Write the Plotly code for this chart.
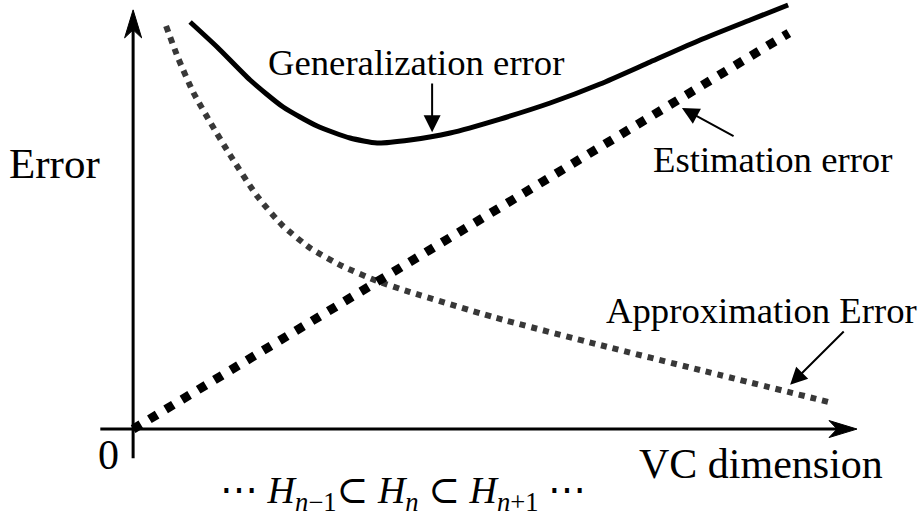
import plotly.graph_objects as go

# Conceptual curves: error versus VC dimension (arbitrary units)
approx_x = [5.03, 6.86, 9.15, 11.74, 14.79, 18.91, 22.72, 26.99, 31.87, 37.21, 42.24, 54.90, 71.22, 86.47, 106.74]
approx_y = [93.94, 86.48, 78.55, 71.56, 63.87, 54.31, 47.55, 42.19, 38.00, 34.50, 31.93, 26.11, 19.58, 13.75, 6.06]

estim_x = [0.0, 100.0]
estim_y = [0.0, 92.3]

gen_x = [8.69, 12.81, 17.84, 22.88, 28.06, 33.09, 37.21, 42.24, 48.35, 55.97, 63.60, 71.22, 78.85, 86.47, 94.10, 99.89]
gen_y = [94.87, 89.04, 81.35, 75.06, 70.63, 67.83, 66.67, 67.37, 69.00, 72.26, 75.99, 80.42, 85.55, 90.68, 95.34, 98.83]

SERIF = "Liberation Serif, Times New Roman, DejaVu Serif, serif"

fig = go.Figure()

fig.add_trace(go.Scatter(
    x=approx_x, y=approx_y, mode="lines",
    line=dict(color="#383838", width=6, dash="6px,6px", shape="spline", smoothing=0.6),
    hoverinfo="skip"))
fig.add_trace(go.Scatter(
    x=estim_x, y=estim_y, mode="lines",
    line=dict(color="black", width=9, dash="9px,10px"),
    hoverinfo="skip"))
fig.add_trace(go.Scatter(
    x=gen_x, y=gen_y, mode="lines",
    line=dict(color="black", width=5, shape="spline", smoothing=0.6),
    hoverinfo="skip"))

# Hand-drawn style axes with arrowheads
x_axis_start, x_axis_end = -5.0, 110.4
y_axis_start, y_axis_end = -6.8, 97.7
shapes = [
    dict(type="line", x0=x_axis_start, x1=x_axis_end - 3.0, y0=0, y1=0,
         line=dict(color="black", width=3)),
    dict(type="line", x0=0, x1=0, y0=y_axis_start, y1=y_axis_end - 4.5,
         line=dict(color="black", width=3)),
    dict(type="path", xsizemode="pixel", ysizemode="pixel",
         xanchor=x_axis_end, yanchor=0,
         path="M0,0 L-28,8.5 L-20,0 L-28,-8.5 Z",
         fillcolor="black", line=dict(color="black", width=1)),
    dict(type="path", xsizemode="pixel", ysizemode="pixel",
         xanchor=0, yanchor=y_axis_end,
         path="M0,0 L-8.5,-28 L0,-20 L8.5,-28 Z",
         fillcolor="black", line=dict(color="black", width=1)),
]

annotations = [
    # pointer arrows
    dict(x=45.6, y=69.2, ax=45.6, ay=80.9, axref="x", ayref="y", text="",
         showarrow=True, arrowhead=2, arrowwidth=2, arrowsize=1.7, arrowcolor="black"),
    dict(x=83.7, y=74.8, ax=91.8, ay=68.1, axref="x", ayref="y", text="",
         showarrow=True, arrowhead=2, arrowwidth=2, arrowsize=1.7, arrowcolor="black"),
    dict(x=100.2, y=10.3, ax=108.6, ay=23.1, axref="x", ayref="y", text="",
         showarrow=True, arrowhead=2, arrowwidth=2, arrowsize=1.7, arrowcolor="black"),
    # labels
    dict(x=20.2, y=85.4, text="Generalization error", showarrow=False,
         xanchor="left", yanchor="middle", font=dict(family=SERIF, size=36.7, color="black")),
    dict(x=79.0, y=62.8, text="Estimation error", showarrow=False,
         xanchor="left", yanchor="middle", font=dict(family=SERIF, size=36.7, color="black")),
    dict(x=71.8, y=27.6, text="Approximation Error", showarrow=False,
         xanchor="left", yanchor="middle", font=dict(family=SERIF, size=36.7, color="black")),
    dict(x=-19.2, y=62.0, text="Error", showarrow=False,
         xanchor="left", yanchor="middle", font=dict(family=SERIF, size=43, color="black")),
    dict(x=-5.6, y=-6.0, text="0", showarrow=False,
         xanchor="left", yanchor="middle", font=dict(family=SERIF, size=42, color="black")),
    dict(x=76.8, y=-8.2, text="VC dimension", showarrow=False,
         xanchor="left", yanchor="middle", font=dict(family=SERIF, size=42, color="black")),
    dict(x=13.0, y=-14.8,
         text="⋯ <i>H</i><sub><i>n</i>−1</sub>⊂ <i>H</i><sub><i>n</i></sub> ⊂ <i>H</i><sub><i>n</i>+1</sub> ⋯",
         showarrow=False, xanchor="left", yanchor="middle",
         font=dict(family=SERIF, size=38, color="black")),
]

fig.update_layout(
    width=918, height=517,
    margin=dict(l=0, r=0, t=0, b=0),
    paper_bgcolor="white", plot_bgcolor="white",
    showlegend=False,
    xaxis=dict(range=[-20.3, 119.7], visible=False, fixedrange=True),
    yaxis=dict(range=[-20.5, 100.0], visible=False, fixedrange=True),
    shapes=shapes,
    annotations=annotations,
)

fig.write_html("out.html")
